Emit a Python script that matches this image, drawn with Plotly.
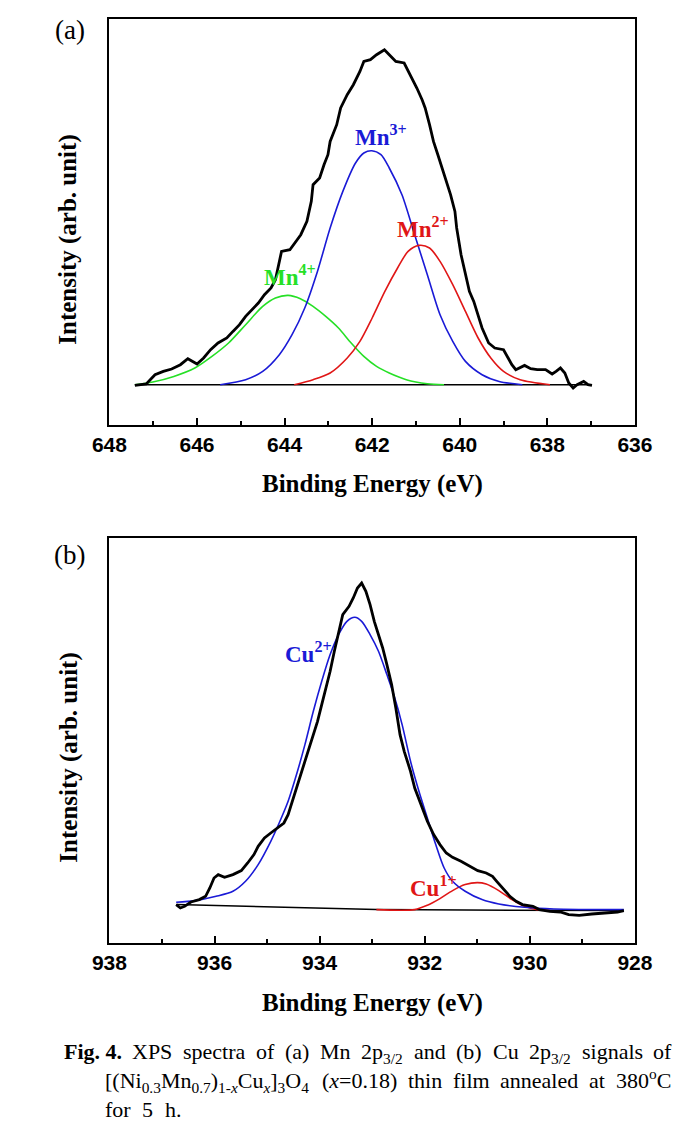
import plotly.graph_objects as go

# ---------------- data: panel (a) Mn 2p3/2 ----------------
mn_be = [647.42, 647.16, 646.96, 646.77, 646.58, 646.38, 646.21, 646.10, 646.00, 645.85,
         645.69, 645.52, 645.32, 645.18, 645.03, 644.89, 644.74, 644.60, 644.46, 644.31,
         644.21, 644.12, 644.07, 643.88, 643.73, 643.63, 643.49, 643.39, 643.35, 643.20,
         643.10, 643.01, 642.96, 642.81, 642.72, 642.57, 642.43, 642.28, 642.19, 642.04,
         641.90, 641.72, 641.61, 641.46, 641.27, 641.17, 641.08, 640.98, 640.86, 640.79,
         640.69, 640.60, 640.50, 640.40, 640.31, 640.21, 640.11, 640.07, 639.97, 639.87,
         639.78, 639.68, 639.58, 639.49, 639.34, 639.20, 639.00, 638.91, 638.81, 638.72,
         638.52, 638.38, 638.23, 638.04, 637.89, 637.80, 637.70, 637.60, 637.51, 637.41,
         637.32, 637.17, 637.07, 636.98]
mn_int = [-0.7, 0.7, 10, 13.3, 15.7, 20, 26, 23.3, 20.7, 26.7,
          35, 41.7, 46.7, 53.3, 60, 68.3, 75, 81.7, 90, 96.7,
          105, 123.3, 133.3, 135, 143.3, 150, 163.3, 183.3, 200, 206.7,
          220, 230, 243.3, 260, 276.7, 290, 300, 313.3, 323.3, 325,
          330, 335, 330, 323.3, 321.7, 313.3, 306.7, 296.7, 285, 276.7,
          260, 243.3, 230, 216.7, 203.3, 190, 173.3, 156.7, 130, 110,
          93.3, 83.3, 70, 56.7, 41.7, 36.7, 35, 28.3, 20, 15,
          19.3, 16, 15, 15, 10.7, 13.3, 16.7, 11.7, 1.7, -3.3,
          0, 3.3, 0, -0.7]

mn4_be = [647.42, 647.01, 646.53, 646.05, 645.66, 645.28, 644.89, 644.50, 644.21, 643.92,
          643.64, 643.35, 643.06, 642.77, 642.48, 642.19, 641.90, 641.61, 641.22, 640.74, 640.36]
mn4_int = [0, 2.7, 8.3, 16.7, 28.3, 41.7, 60, 78.3, 86.7, 89.3,
           86, 78.3, 68.3, 56.7, 41.7, 28.3, 18.3, 11.7, 5, 1, 0]

mn3_be = [645.47, 644.89, 644.50, 644.12, 643.83, 643.54, 643.25, 642.96, 642.67, 642.38,
          642.19, 642.01, 641.80, 641.61, 641.32, 641.03, 640.74, 640.45, 640.16, 639.87,
          639.49, 639.10, 638.57]
mn3_int = [0, 5, 13.3, 30, 50, 76.7, 113.3, 156.7, 193.3, 221.7,
           231.7, 234, 230, 216.7, 190, 150, 110, 70, 43.3, 23.3,
           10, 3.3, 0]

mn2_be = [643.78, 643.35, 642.96, 642.57, 642.28, 642.00, 641.71, 641.42, 641.18, 640.93,
          640.69, 640.45, 640.16, 639.87, 639.58, 639.29, 639.00, 638.62, 637.94]
mn2_int = [0, 5, 11.7, 26.7, 43.3, 66.7, 93.3, 116.7, 133.3, 139.3,
           136.7, 123.3, 100, 73.3, 46.7, 26.7, 13.3, 5, 0]

mn_base_be = [647.42, 636.98]
mn_base_int = [0, 0]

mn_ticks = [648, 646, 644, 642, 640, 638, 636]

# ---------------- data: panel (b) Cu 2p3/2 ----------------
cu_be = [936.73, 936.65, 936.57, 936.45, 936.29, 936.17, 936.09, 936.01, 935.93, 935.81,
         935.65, 935.49, 935.37, 935.25, 935.17, 935.05, 934.93, 934.81, 934.68, 934.60,
         934.52, 934.44, 934.36, 934.28, 934.20, 934.12, 934.04, 933.96, 933.88, 933.80,
         933.72, 933.64, 933.56, 933.44, 933.36, 933.28, 933.20, 933.12, 933.04, 932.96,
         932.88, 932.80, 932.72, 932.63, 932.55, 932.47, 932.39, 932.27, 932.19, 932.07,
         931.95, 931.83, 931.71, 931.59, 931.47, 931.31, 931.15, 930.99, 930.83, 930.71,
         930.63, 930.50, 930.38, 930.26, 930.14, 929.94, 929.82, 929.62, 929.42, 929.26,
         929.06, 928.82, 928.58, 928.33, 928.21]
cu_int = [6.7, 3.3, 5, 9.3, 11.7, 15, 23.3, 33.3, 36.7, 34,
          36.7, 40.7, 48.3, 56.7, 65, 73.3, 78.3, 83.3, 88.3, 96.7,
          110, 123.3, 136.7, 150, 163.3, 176.7, 190, 206.7, 223.3, 240,
          260, 280, 296.7, 305, 313.3, 323.3, 328.3, 320, 306.7, 290,
          276.7, 263.3, 246.7, 226.7, 203.3, 176.7, 160, 140, 123.3, 106.7,
          90, 76.7, 66.7, 58.3, 54, 50, 45, 40.7, 38.3, 35,
          30, 21.7, 15, 10, 6.7, 5, 1.7, 0, -0.7, -3.3,
          -4, -2.7, -1.7, -0.7, 0.7]

cu2_be = [936.73, 936.37, 935.97, 935.65, 935.41, 935.17, 934.93, 934.77, 934.60, 934.44,
          934.28, 934.12, 933.96, 933.80, 933.64, 933.48, 933.33, 933.20, 933.04, 932.88,
          932.72, 932.59, 932.43, 932.27, 932.11, 931.95, 931.79, 931.63, 931.47, 931.23,
          930.91, 930.59, 930.10, 929.54, 928.21]
cu2_int = [9, 10.7, 15, 20, 30, 46.7, 70, 88.3, 110, 136.7,
           166.7, 200, 230, 256.7, 276.7, 290, 294, 290, 276.7, 260,
           236.7, 216.7, 186.7, 150, 120, 93.3, 66.7, 43.3, 30, 20,
           11.7, 7.3, 4, 2.3, 1.7]

cu1_be = [932.92, 932.19, 931.95, 931.71, 931.47, 931.23, 931.00, 930.83, 930.59, 930.34,
          930.10, 929.86, 929.62]
cu1_int = [1.7, 1.7, 6, 12.7, 20.7, 26.7, 28.7, 27.3, 20.7, 11.7,
           5, 1.7, 1]

cu_base_be = [936.73, 932.92, 928.21]
cu_base_int = [6.7, 1.7, 0.7]

cu_ticks = [938, 936, 934, 932, 930, 928]

# ---------------- caption text ----------------
cap_line1 = [[("Fig. 4.", "b")], [("XPS", "n")], [("spectra", "n")], [("of", "n")],
             [("(a)", "n")], [("Mn", "n")], [("2p", "n"), ("3/2", "sub")], [("and", "n")],
             [("(b)", "n")], [("Cu", "n")], [("2p", "n"), ("3/2", "sub")],
             [("signals", "n")], [("of", "n")]]
cap_line2 = [[("[(Ni", "n"), ("0.3", "sub"), ("Mn", "n"), ("0.7", "sub"), (")", "n"),
              ("1-", "sub"), ("x", "subi"), ("Cu", "n"), ("x", "subi"), ("]", "n"),
              ("3", "sub"), ("O", "n"), ("4", "sub")],
             [("(", "n"), ("x", "i"), ("=0.18)", "n")], [("thin", "n")], [("film", "n")],
             [("annealed", "n")], [("at", "n")], [("380", "n"), ("o", "sup"), ("C", "n")]]
cap_line3 = [[("for", "n")], [("5", "n")], [("h.", "n")]]

# ---------------- figure ----------------
W, H = 698, 1130
BLUE = "#1a1ad6"
RED = "#e01616"
GREEN = "#26e026"
SERIF = "Liberation Serif, Times New Roman, serif"
SANS = "Liberation Sans, Arial, sans-serif"


def px(x):
    return x / W


def py(y):
    return 1 - y / H


fig = go.Figure()


def add(x, y, color, width, xa, ya, shape="linear"):
    line = dict(color=color, width=width, shape=shape)
    if shape == "spline":
        line["smoothing"] = 0.8
    fig.add_trace(go.Scatter(x=x, y=y, mode="lines", xaxis=xa, yaxis=ya, line=line,
                             showlegend=False, hoverinfo="skip"))


# panel (a)
add(mn_base_be, mn_base_int, "black", 1.5, "x", "y")
add(mn4_be, mn4_int, GREEN, 1.6, "x", "y", "spline")
add(mn3_be, mn3_int, BLUE, 1.6, "x", "y", "spline")
add(mn2_be, mn2_int, RED, 1.6, "x", "y", "spline")
add(mn_be, mn_int, "black", 2.8, "x", "y")

# panel (b)
add(cu_base_be, cu_base_int, "black", 1.5, "x2", "y2")
add(cu1_be, cu1_int, RED, 1.6, "x2", "y2", "spline")
add(cu2_be, cu2_int, BLUE, 1.6, "x2", "y2", "spline")
add(cu_be, cu_int, "black", 2.8, "x2", "y2")

xdom = [px(88), px(642)]


def xaxis(rng, ticks, anchor):
    return dict(domain=xdom, range=rng, anchor=anchor,
                tickvals=ticks, ticktext=[str(t) for t in ticks],
                ticks="inside", ticklen=7, tickwidth=1.5, tickcolor="black",
                minor=dict(ticks="inside", ticklen=4, tickwidth=1.5, dtick=1, tickcolor="black"),
                tickfont=dict(family=SANS, size=21, color="black", weight="bold"),
                showline=True, linewidth=2, linecolor="black", mirror=True,
                showgrid=False, zeroline=False)


def yaxis(rng, dom, anchor):
    return dict(domain=dom, range=rng, anchor=anchor, showticklabels=False, ticks="",
                showline=True, linewidth=2, linecolor="black", mirror=True,
                showgrid=False, zeroline=False)


fig.update_layout(
    width=W, height=H, autosize=False,
    margin=dict(l=0, r=0, t=0, b=0),
    paper_bgcolor="white", plot_bgcolor="white",
    xaxis=xaxis([648, 636], mn_ticks, "y"),
    yaxis=yaxis([-40.3, 365.7], [py(417), py(11)], "x"),
    xaxis2=xaxis([938, 928], cu_ticks, "y2"),
    yaxis2=yaxis([-31.7, 373.3], [py(935), py(530)], "x2"),
)

ann = []


def label(text, x, y, size, color="black", bold=False, xref="paper", yref="paper",
          angle=0, xanchor="center", yanchor="middle"):
    ann.append(dict(text=text, x=x, y=y, xref=xref, yref=yref, showarrow=False,
                    textangle=angle, xanchor=xanchor, yanchor=yanchor,
                    font=dict(family=SERIF, size=size, color=color,
                              weight="bold" if bold else "normal")))


# data labels
label("Mn<sup>3+</sup>", 641.79, 249, 23, BLUE, True, "x", "y")
label("Mn<sup>2+</sup>", 640.84, 157, 23, RED, True, "x", "y")
label("Mn<sup>4+</sup>", 643.88, 109, 23, GREEN, True, "x", "y")
label("Cu<sup>2+</sup>", 934.22, 259, 23, BLUE, True, "x2", "y2")
label("Cu<sup>1+</sup>", 931.83, 25, 23, RED, True, "x2", "y2")

# panel labels
label("(a)", px(46), py(22), 27)
label("(b)", px(46), py(547), 27)

# axis titles
label("Binding Energy (eV)", px(365), py(476), 25, bold=True)
label("Binding Energy (eV)", px(365), py(995), 25, bold=True)
label("Intensity (arb. unit)", px(44), py(232), 25, bold=True, angle=-90)
label("Intensity (arb. unit)", px(45), py(750), 25, bold=True, angle=-90)

# ---------------- justified caption, word by word ----------------
TW = {' ': 250, '(': 333, ')': 333, '-': 333, '.': 250, '/': 278, '=': 564, '[': 333, ']': 333,
      'C': 667, 'F': 611, 'M': 889, 'N': 722, 'O': 722, 'P': 556, 'S': 556, 'X': 722,
      'a': 444, 'b': 500, 'd': 500, 'e': 444, 'f': 333, 'g': 500, 'h': 500, 'i': 278,
      'l': 278, 'm': 778, 'n': 500, 'o': 500, 'p': 500, 'r': 333, 's': 389, 't': 278,
      'u': 500, 'x': 500}
CAP_FS = 22


def seg_markup(t, k):
    return {"b": "<b>%s</b>", "i": "<i>%s</i>", "sub": "<sub>%s</sub>",
            "subi": "<sub><i>%s</i></sub>", "sup": "<sup>%s</sup>"}.get(k, "%s") % t


def seg_width(t, k):
    scale = 0.74 if k in ("sub", "subi", "sup") else 1.0
    w = sum(TW.get(c, 500) for c in t) / 1000.0
    if k in ("i", "subi"):
        w *= 0.9
    return w * scale * CAP_FS * 1.04


def place_words(words, x0, x1, top, gap=None):
    widths = [sum(seg_width(t, k) for t, k in wd) for wd in words]
    if gap is None:
        gap = (x1 - x0 - sum(widths)) / (len(words) - 1)
    x = x0
    for i, wd in enumerate(words):
        mark = "".join(seg_markup(t, k) for t, k in wd)
        has_sup = any(k == "sup" for t, k in wd)
        ytop = top - (3.4 if has_sup else 0)
        label(mark, px(x), py(ytop), CAP_FS, xanchor="left", yanchor="top")
        x += widths[i] + gap


place_words(cap_line1, 38, 678, 1029)
place_words(cap_line2, 81, 678, 1058)
place_words(cap_line3, 81, None, 1087, gap=12.5)

fig.update_layout(annotations=ann)
fig.write_html("out.html")
